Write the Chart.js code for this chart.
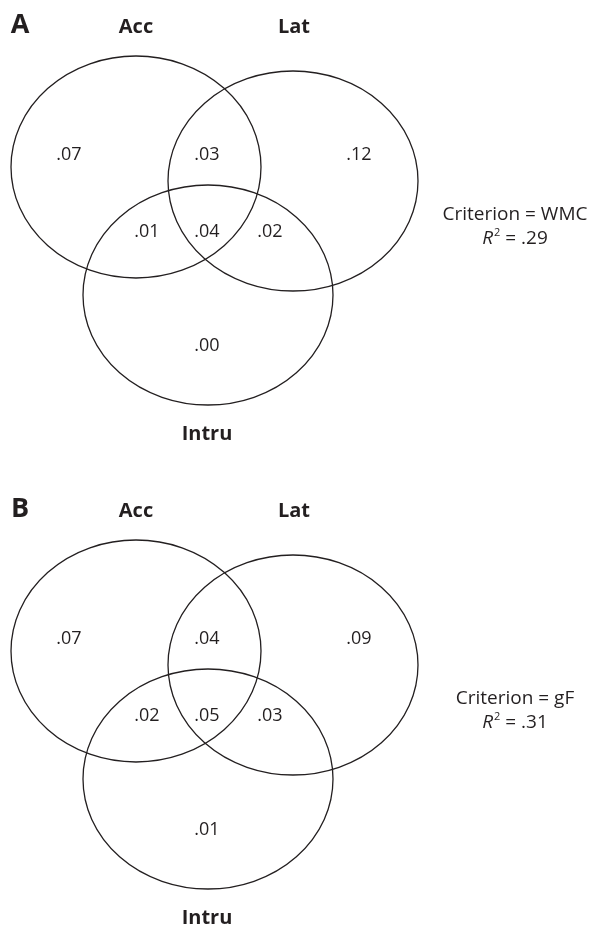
<!DOCTYPE html>
<html lang="en">
<head>
<meta charset="UTF-8">
<title>Venn diagrams</title>
<script src="https://cdn.jsdelivr.net/npm/chart.js"></script>
<style>
  html, body { margin: 0; padding: 0; background: #fff; }
  canvas { display: block; }
</style>
</head>
<body>
<canvas id="venn" width="590" height="928"></canvas>
<script>
// ---- data ----
const panels = ['A', 'B'];
const sets = ['Acc', 'Lat', 'Intru'];
const regions = ['Acc', 'Acc+Lat', 'Lat', 'Acc+Intru', 'Acc+Lat+Intru', 'Lat+Intru', 'Intru'];
const valuesA = [0.07, 0.03, 0.12, 0.01, 0.04, 0.02, 0.00];
const valuesB = [0.07, 0.04, 0.09, 0.02, 0.05, 0.03, 0.01];
const criteria = ['WMC', 'gF'];
const rSquared = [0.29, 0.31];

// ---- layout (scale units, panel-local) ----
const panelTop = [0, 484];
const ellipses = [
    { cx: 136, cy: 167, rx: 125, ry: 111 },   // Acc
    { cx: 293, cy: 181, rx: 125, ry: 110 },   // Lat
    { cx: 208, cy: 295, rx: 125, ry: 110 }    // Intru
];
const setLabelPos = [[136, 33], [294, 33], [207, 440]];
const regionPos = [[69, 160], [207, 160], [359, 160], [147, 237], [207, 237], [270, 237], [207, 351]];
const panelLetterPos = [20, 33];
const criterionPos = [515, 220, 244];

const FONT = '"Open Sans", "Noto Sans", sans-serif';
const INK = '#231f20';

const fmt = v => v.toFixed(2).replace(/^0/, '');

// one invisible scatter dataset per panel, a point per region
const datasets = [valuesA, valuesB].map((vals, p) => ({
    label: 'Panel ' + panels[p],
    data: vals.map((v, i) => ({ x: regionPos[i][0], y: regionPos[i][1] + panelTop[p], v: v, region: regions[i] })),
    pointRadius: 0,
    showLine: false
}));

const vennPlugin = {
    id: 'venn',
    afterDatasetsDraw(chart) {
        const ctx = chart.ctx;
        const xs = chart.scales.x, ys = chart.scales.y;
        const px = v => xs.getPixelForValue(v);
        const py = v => ys.getPixelForValue(v);

        ctx.save();
        ctx.fillStyle = INK;
        ctx.strokeStyle = INK;

        panels.forEach((letter, p) => {
            const top = panelTop[p];

            // ellipses
            ctx.lineWidth = 1.3;
            ellipses.forEach(e => {
                const cx = px(e.cx), cy = py(e.cy + top);
                const rx = Math.abs(px(e.cx + e.rx) - cx);
                const ry = Math.abs(py(e.cy + top + e.ry) - cy);
                ctx.beginPath();
                ctx.ellipse(cx, cy, rx, ry, 0, 0, Math.PI * 2);
                ctx.stroke();
            });

            // panel letter
            ctx.textAlign = 'center';
            ctx.textBaseline = 'alphabetic';
            ctx.font = 'bold 27px ' + FONT;
            ctx.fillText(letter, px(panelLetterPos[0]), py(panelLetterPos[1] + top));

            // set names
            ctx.font = 'bold 20px ' + FONT;
            sets.forEach((s, i) => {
                ctx.fillText(s, px(setLabelPos[i][0]), py(setLabelPos[i][1] + top));
            });

            // region values, at the dataset's points
            ctx.font = '18px ' + FONT;
            chart.getDatasetMeta(p).data.forEach((pt, i) => {
                ctx.fillText(fmt(chart.data.datasets[p].data[i].v), pt.x, pt.y);
            });

            // criterion and R squared
            const cx = px(criterionPos[0]);
            ctx.font = '19px ' + FONT;
            ctx.fillText('Criterion = ' + criteria[p], cx, py(criterionPos[1] + top));

            const yb = py(criterionPos[2] + top);
            const partR = 'R', partSup = '2', partRest = ' = ' + fmt(rSquared[p]);
            ctx.font = 'italic 19px ' + FONT;
            const wR = ctx.measureText(partR).width;
            ctx.font = '11px ' + FONT;
            const wS = ctx.measureText(partSup).width;
            ctx.font = '19px ' + FONT;
            const wRest = ctx.measureText(partRest).width;
            let x0 = cx - (wR + wS + 1 + wRest) / 2;
            ctx.textAlign = 'left';
            ctx.font = 'italic 19px ' + FONT;
            ctx.fillText(partR, x0, yb);
            x0 += wR + 1;
            ctx.font = '11px ' + FONT;
            ctx.fillText(partSup, x0, yb - 8);
            x0 += wS;
            ctx.font = '19px ' + FONT;
            ctx.fillText(partRest, x0, yb);
        });
        ctx.restore();
    }
};

new Chart(document.getElementById('venn'), {
    type: 'scatter',
    data: { datasets: datasets },
    options: {
        responsive: false,
        animation: false,
        layout: { padding: 0 },
        plugins: { legend: { display: false }, tooltip: { enabled: false } },
        scales: {
            x: { type: 'linear', min: 0, max: 590, display: false },
            y: { type: 'linear', min: 0, max: 928, reverse: true, display: false }
        }
    },
    plugins: [vennPlugin]
});
</script>
</body>
</html>
